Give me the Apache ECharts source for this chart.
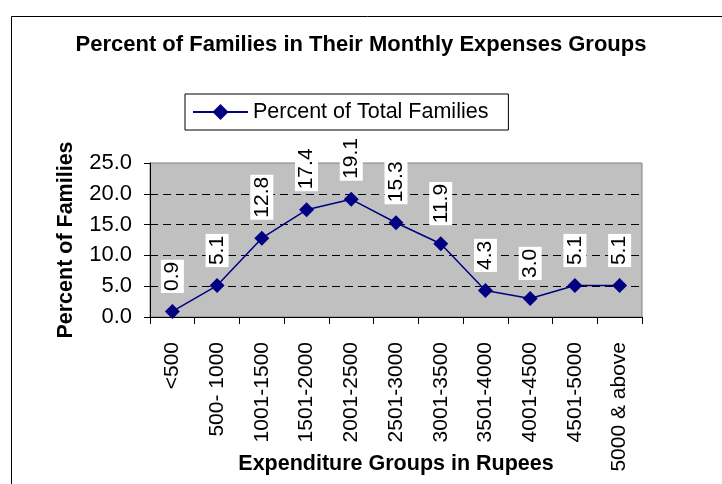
<!DOCTYPE html>
<html>
<head>
<meta charset="utf-8">
<script src="https://cdn.jsdelivr.net/npm/echarts@6/dist/echarts.min.js"></script>
<style>
    html, body { margin: 0; padding: 0; background: #fff; }
    #chart { width: 722px; height: 484px; }
</style>
</head>
<body>
<div id="chart"></div>
<script>
// 数据
const categories = ['<500', '500- 1000', '1001-1500', '1501-2000', '2001-2500', '2501-3000',
    '3001-3500', '3501-4000', '4001-4500', '4501-5000', '5000 & above'];
const percentFamilies = [0.9, 5.1, 12.8, 17.4, 19.1, 15.3, 11.9, 4.3, 3.0, 5.1, 5.1];
const yTicks = [0, 5, 10, 15, 20, 25];

const font = 'Arial, "Liberation Sans", sans-serif';

const chart = echarts.init(document.getElementById('chart'));

chart.setOption({
    animation: false,
    backgroundColor: '#fff',
    textStyle: { fontFamily: font, color: '#000' },
    title: {
        text: 'Percent of Families in Their Monthly Expenses Groups',
        left: 'center',
        top: 29,
        textStyle: { fontFamily: font, fontSize: 22, fontWeight: 'bold', color: '#000' }
    },
    // 外框
    graphic: [{
        type: 'rect',
        left: 9, top: 14,
        shape: { width: 760, height: 500 },
        style: { fill: 'none', stroke: '#000', lineWidth: 1 },
        silent: true
    }],
    legend: {
        left: 185,
        top: 94,
        padding: [7, 20, 7, 7],
        borderColor: '#000',
        borderWidth: 1,
        backgroundColor: '#fff',
        itemWidth: 55,
        itemHeight: 20,
        itemGap: 4,
        textStyle: { fontFamily: font, fontSize: 21.5, color: '#000' },
        data: ['Percent of Total Families']
    },
    grid: {
        left: 150,
        right: 80,
        top: 163,
        bottom: 167,
        outerBoundsMode: 'none',
        containLabel: false,
        show: true,
        backgroundColor: '#c0c0c0',
        borderColor: '#808080',
        borderWidth: 1
    },
    xAxis: {
        type: 'category',
        data: categories,
        boundaryGap: true,
        name: 'Expenditure Groups in Rupees',
        nameLocation: 'middle',
        nameGap: 136,
        nameMoveOverlap: false,
        nameTextStyle: { fontFamily: font, fontSize: 21.5, fontWeight: 'bold', color: '#000' },
        axisLine: { lineStyle: { color: '#000', width: 1 } },
        axisTick: { show: true, length: 7, inside: false, lineStyle: { color: '#000' } },
        axisLabel: {
            rotate: 90,
            margin: 25,
            interval: 0,
            fontFamily: font,
            fontSize: 21,
            color: '#000'
        }
    },
    yAxis: {
        type: 'value',
        min: yTicks[0],
        max: yTicks[yTicks.length - 1],
        interval: 5,
        name: 'Percent of Families',
        nameLocation: 'middle',
        nameGap: 73,
        nameMoveOverlap: false,
        nameTextStyle: { fontFamily: font, fontSize: 21.5, fontWeight: 'bold', color: '#000' },
        axisLine: { show: true, lineStyle: { color: '#000', width: 1 } },
        axisTick: { show: true, length: 6, lineStyle: { color: '#000' } },
        axisLabel: {
            margin: 18,
            fontFamily: font,
            fontSize: 22,
            color: '#000',
            formatter: v => v.toFixed(1)
        },
        splitLine: {
            show: true,
            showMinLine: false,
            showMaxLine: false,
            lineStyle: { color: '#000', type: [8, 5], width: 1 }
        }
    },
    series: [{
        name: 'Percent of Total Families',
        type: 'line',
        data: percentFamilies,
        symbol: 'diamond',
        symbolSize: 15,
        lineStyle: { color: '#000080', width: 1.5 },
        itemStyle: { color: '#000080' },
        label: {
            show: true,
            position: 'top',
            distance: 11,
            rotate: 90,
            align: 'left',
            verticalAlign: 'middle',
            backgroundColor: '#fff',
            padding: [1, 2],
            fontFamily: font,
            fontSize: 21,
            color: '#000',
            formatter: p => p.value.toFixed(1)
        }
    }]
});

window.addEventListener('resize', () => chart.resize());
</script>
</body>
</html>
